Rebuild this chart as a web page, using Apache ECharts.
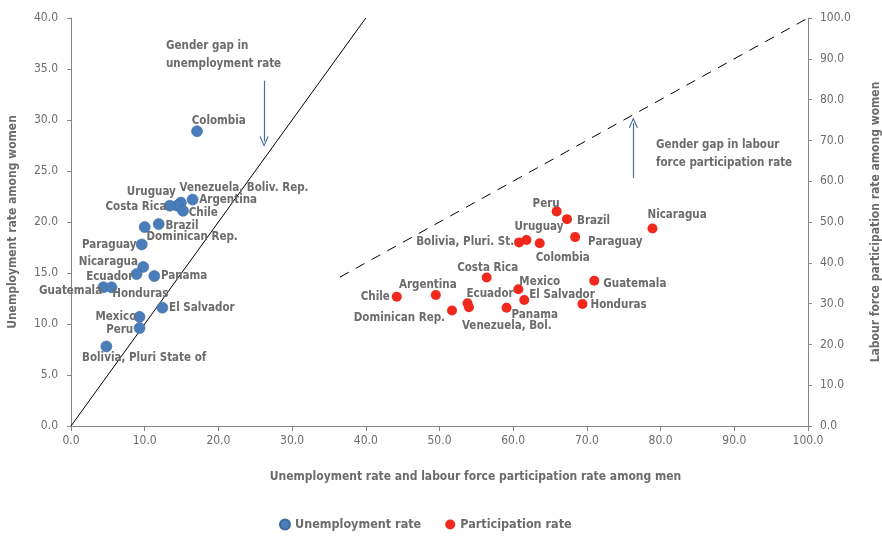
<!DOCTYPE html>
<html>
<head>
<meta charset="utf-8">
<script src="https://cdn.jsdelivr.net/npm/echarts@6/dist/echarts.min.js"></script>
<style>
  html, body { margin: 0; padding: 0; background: #fff; }
  #chart { width: 882px; height: 536px; }
</style>
</head>
<body>
<div id="chart"></div>
<script>
// Unemployment rate (%) by sex
const unempCountries = ['Colombia', 'Venezuela, Boliv. Rep.', 'Argentina', 'Uruguay', 'Costa Rica', 'Chile',
  'Brazil', 'Dominican Rep.', 'Paraguay', 'Nicaragua', 'Ecuador', 'Panama', 'Guatemala', 'Honduras',
  'El Salvador', 'Mexico', 'Peru', 'Bolivia, Pluri State of'];
const unempMen = [17.1, 14.9, 16.5, 14.4, 13.4, 15.2, 11.9, 10.0, 9.6, 9.8, 8.9, 11.3, 4.4, 5.5, 12.4, 9.3, 9.3, 4.8];
const unempWomen = [28.9, 21.9, 22.2, 21.6, 21.6, 21.1, 19.8, 19.5, 17.8, 15.6, 14.9, 14.7, 13.6, 13.6, 11.6, 10.7, 9.6, 7.8];

// Labour force participation rate (%) by sex
const partCountries = ['Peru', 'Brazil', 'Nicaragua', 'Uruguay', 'Bolivia, Pluri. St.', 'Colombia', 'Paraguay',
  'Costa Rica', 'Guatemala', 'Mexico', 'El Salvador', 'Honduras', 'Chile', 'Argentina', 'Ecuador',
  'Venezuela, Bol.', 'Dominican Rep.', 'Panama'];
const partMen = [65.9, 67.3, 78.9, 61.8, 60.8, 63.6, 68.4, 56.4, 71.0, 60.7, 61.5, 69.4, 44.2, 49.5, 53.8, 54.0, 51.7, 59.1];
const partWomen = [52.6, 50.7, 48.4, 45.6, 45.0, 44.8, 46.3, 36.4, 35.6, 33.5, 30.9, 29.9, 31.7, 32.1, 30.1, 29.1, 28.3, 29.0];

// Equality lines (women = men) on each scale
const unempParity = [[0, 0], [40, 40]];
const partParity = [[36.5, 36.5], [100, 100]];

// Axis ranges
const leftMax = 40, leftStep = 5;
const rightMax = 100, rightStep = 10;
const xMax = 100, xStep = 10;

// Label placement around each point: [align, dx, dy] from the point centre
const unempLabelPos = {
  'Colombia': ['left', -5, -10], 'Venezuela, Boliv. Rep.': ['left', -1, -14], 'Argentina': ['left', 7, 1],
  'Uruguay': ['right', -1, -13], 'Costa Rica': ['right', -3, 2], 'Chile': ['left', 6, 3],
  'Brazil': ['left', 7, 2], 'Dominican Rep.': ['left', 2, 10], 'Paraguay': ['right', -5, 1],
  'Nicaragua': ['right', -5, -5], 'Ecuador': ['right', -3, 3], 'Panama': ['left', 7, 0],
  'Guatemala': ['right', -1, 4], 'Honduras': ['left', 1, 7], 'El Salvador': ['left', 7, 1],
  'Mexico': ['right', -3, 0], 'Peru': ['right', -6, 2], 'Bolivia, Pluri State of': ['left', -24, 12]
};
const partLabelPos = {
  'Peru': ['right', 3, -7], 'Brazil': ['left', 10, 2], 'Nicaragua': ['left', -5, -14],
  'Uruguay': ['left', -12, -13], 'Bolivia, Pluri. St.': ['right', -5, 0], 'Colombia': ['left', -4, 15],
  'Paraguay': ['left', 13, 5], 'Costa Rica': ['center', 1, -9], 'Guatemala': ['left', 9, 3],
  'Mexico': ['left', 1, -7], 'El Salvador': ['left', 5, -5], 'Honduras': ['left', 8, 1],
  'Chile': ['right', -7, 0], 'Argentina': ['center', -8, -10], 'Ecuador': ['left', -1, -9],
  'Venezuela, Bol.': ['left', -7, 19], 'Dominican Rep.': ['right', -7, 7], 'Panama': ['left', 5, 7]
};

const FONT = '"Liberation Sans Narrow", "DejaVu Sans Condensed", "Liberation Sans", sans-serif';
const GREY = '#6b6b6b';
const AXIS_GREY = '#858585';
const BLUE = '#4a7ebb';
const RED = '#f1281c';
const BLUE_SIZE = 11;
const RED_SIZE = 10;

function pointsWithLabels(names, xs, ys, placement, size) {
  return names.map((n, i) => {
    const p = placement[n];
    return {
      name: n,
      value: [xs[i], ys[i]],
      label: {
        show: true,
        // position is measured from the top-left of the symbol's box
        position: [size / 2 + p[1], size / 2 + p[2]],
        align: p[0],
        verticalAlign: 'middle',
        formatter: '{b}',
        color: GREY,
        fontFamily: FONT,
        fontWeight: 'bold',
        fontSize: 11.5
      }
    };
  });
}

// Thin open chevron used as the arrow head
const chevron = 'path://M5,0 L10,10 L9,10.8 L5,2.6 L1,10.8 L0,10 Z';

const fmt = v => v.toFixed(1);

const chart = echarts.init(document.getElementById('chart'), null, { renderer: 'canvas' });
chart.setOption({
  animation: false,
  backgroundColor: '#ffffff',
  grid: { left: 71, right: 74, top: 18, bottom: 110, containLabel: false, outerBoundsMode: 'none' },
  legend: {
    left: 274,
    top: 513,
    itemGap: 24,
    itemWidth: 10,
    itemHeight: 10,
    data: [
      { name: 'Unemployment rate', icon: 'circle' },
      { name: 'Participation rate', icon: 'circle' }
    ],
    textStyle: { color: GREY, fontFamily: FONT, fontWeight: 'bold', fontSize: 12.5 }
  },
  xAxis: {
    type: 'value',
    min: 0, max: xMax, interval: xStep,
    name: 'Unemployment rate and labour force participation rate among men',
    nameLocation: 'middle',
    nameGap: 45,
    nameTextStyle: { color: GREY, fontFamily: FONT, fontWeight: 'bold', fontSize: 12, padding: [0, 0, 0, 72] },
    axisLine: { show: true, lineStyle: { color: AXIS_GREY, width: 1 } },
    axisTick: { show: true, length: 5, lineStyle: { color: AXIS_GREY } },
    axisLabel: { color: GREY, fontFamily: FONT, fontSize: 12, margin: 9, formatter: fmt },
    splitLine: { show: false }
  },
  yAxis: [
    {
      type: 'value',
      min: 0, max: leftMax, interval: leftStep,
      position: 'left',
      name: 'Unemployment rate among women',
      nameLocation: 'middle',
      nameGap: 52,
      nameTextStyle: { color: GREY, fontFamily: FONT, fontWeight: 'bold', fontSize: 12 },
      axisLine: { show: true, lineStyle: { color: AXIS_GREY, width: 1 } },
      axisTick: { show: true, length: 4, lineStyle: { color: AXIS_GREY } },
      axisLabel: { color: GREY, fontFamily: FONT, fontSize: 12, margin: 13, formatter: fmt },
      splitLine: { show: false }
    },
    {
      type: 'value',
      min: 0, max: rightMax, interval: rightStep,
      position: 'right',
      name: 'Labour force participation rate among women',
      nameLocation: 'middle',
      nameGap: 62,
      nameRotate: 90,
      nameTextStyle: { color: GREY, fontFamily: FONT, fontWeight: 'bold', fontSize: 12 },
      axisLine: { show: true, lineStyle: { color: AXIS_GREY, width: 1 } },
      axisTick: { show: true, length: 4, lineStyle: { color: AXIS_GREY } },
      axisLabel: { color: GREY, fontFamily: FONT, fontSize: 12, margin: 12, formatter: fmt },
      splitLine: { show: false }
    }
  ],
  series: [
    {
      name: 'Unemployment parity',
      type: 'line',
      yAxisIndex: 0,
      data: unempParity,
      showSymbol: false,
      silent: true,
      lineStyle: { color: '#000000', width: 1 },
      z: 1,
      markLine: {
        silent: true,
        symbol: ['none', chevron],
        symbolSize: [9, 11],
        label: { show: false },
        lineStyle: { color: '#4a6f9c', width: 1.2, type: 'solid' },
        data: [[{ coord: [26.2, 33.85] }, { coord: [26.2, 27.9] }]]
      }
    },
    {
      name: 'Participation parity',
      type: 'line',
      yAxisIndex: 1,
      data: partParity,
      showSymbol: false,
      silent: true,
      lineStyle: { color: '#000000', width: 1, type: [10, 8] },
      z: 1,
      markLine: {
        silent: true,
        symbol: ['none', chevron],
        symbolSize: [9, 11],
        label: { show: false },
        lineStyle: { color: '#4a6f9c', width: 1.2, type: 'solid' },
        data: [[{ coord: [76.3, 60.8] }, { coord: [76.3, 74.3] }]]
      }
    },
    {
      name: 'Unemployment rate',
      type: 'scatter',
      yAxisIndex: 0,
      symbolSize: BLUE_SIZE,
      itemStyle: { color: BLUE, borderColor: '#3b6aa0', borderWidth: 0.6, opacity: 1 },
      data: pointsWithLabels(unempCountries, unempMen, unempWomen, unempLabelPos, BLUE_SIZE),
      z: 3
    },
    {
      name: 'Participation rate',
      type: 'scatter',
      yAxisIndex: 1,
      symbolSize: RED_SIZE,
      itemStyle: { color: RED, opacity: 1 },
      data: pointsWithLabels(partCountries, partMen, partWomen, partLabelPos, RED_SIZE),
      z: 3
    }
  ],
  graphic: [
    {
      type: 'text',
      left: 166,
      top: 37,
      style: {
        text: 'Gender gap in\nunemployment rate',
        fill: GREY,
        font: 'bold 11.5px ' + FONT,
        lineHeight: 18
      }
    },
    {
      type: 'text',
      left: 656,
      top: 136,
      style: {
        text: 'Gender gap in labour\nforce participation rate',
        fill: GREY,
        font: 'bold 11.5px ' + FONT,
        lineHeight: 18
      }
    }
  ]
});
</script>
</body>
</html>
